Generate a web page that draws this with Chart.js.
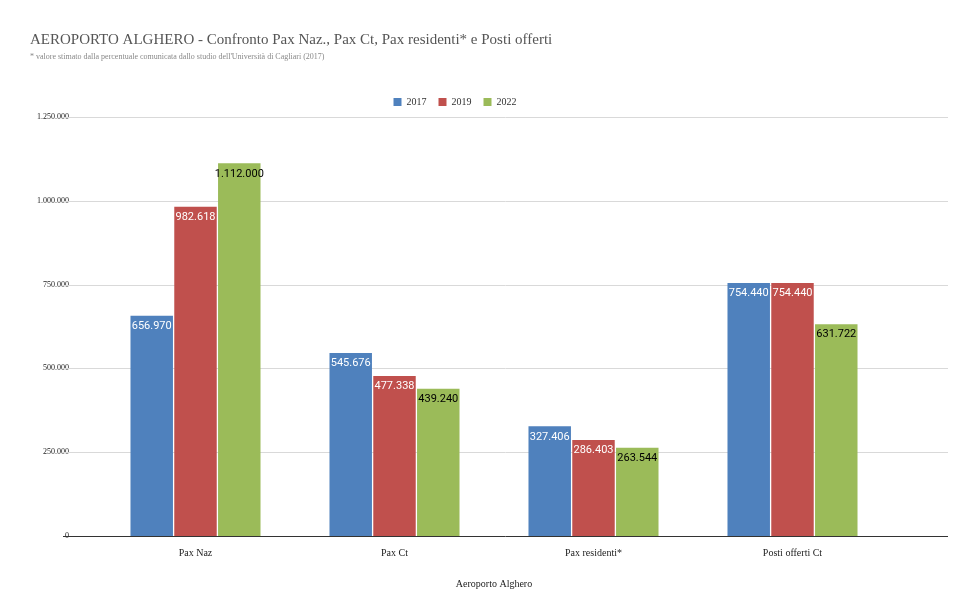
<!DOCTYPE html>
<html>
<head>
<meta charset="utf-8">
<script src="https://cdn.jsdelivr.net/npm/chart.js@4"></script>
<style>
  body { margin: 0; background: #fff; }
  #wrap { width: 980px; height: 608px; }
</style>
</head>
<body>
<div id="wrap"><canvas id="chart"></canvas></div>
<script>
const categories = ['Pax Naz', 'Pax Ct', 'Pax residenti*', 'Posti offerti Ct'];
const years = ['2017', '2019', '2022'];
const values2017 = [656970, 545676, 327406, 754440];
const values2019 = [982618, 477338, 286403, 754440];
const values2022 = [1112000, 439240, 263544, 631722];
const colors = ['#4f81bd', '#c0504d', '#9bbb59'];

const fmt = v => Math.round(v).toString().replace(/\B(?=(\d{3})+(?!\d))/g, '.');

// title + subtitle drawn at the left edge
const headerPlugin = {
    id: 'header',
    afterDraw(chart) {
        const ctx = chart.ctx;
        ctx.save();
        ctx.textBaseline = 'alphabetic';
        ctx.fillStyle = '#555';
        ctx.font = '15px "Liberation Serif"';
        ctx.fillText('AEROPORTO ALGHERO - Confronto Pax Naz., Pax Ct, Pax residenti* e Posti offerti', 30, 44);
        ctx.fillStyle = '#888';
        ctx.font = '8px "Liberation Serif"';
        ctx.fillText("* valore stimato dalla percentuale comunicata dallo studio dell'Università di Cagliari (2017)", 30, 59);
        ctx.restore();
    }
};

// horizontal gridlines run wider than the category area
const gridPlugin = {
    id: 'wideGrid',
    beforeDatasetsDraw(chart) {
        const ctx = chart.ctx, y = chart.scales.y;
        ctx.save();
        y.ticks.forEach(t => {
            const py = Math.round(y.getPixelForValue(t.value)) + 0.5;
            ctx.strokeStyle = t.value === 0 ? '#333' : '#d9d9d9';
            ctx.lineWidth = 1;
            ctx.beginPath();
            ctx.moveTo(63, py);
            ctx.lineTo(948, py);
            ctx.stroke();
        });
        ctx.restore();
    }
};

// value labels inside the top of each bar
const labelPlugin = {
    id: 'barLabels',
    afterDatasetsDraw(chart) {
        const ctx = chart.ctx;
        ctx.save();
        ctx.font = '11px Roboto';
        ctx.textAlign = 'center';
        ctx.textBaseline = 'top';
        chart.data.datasets.forEach((ds, i) => {
            chart.getDatasetMeta(i).data.forEach((bar, j) => {
                ctx.fillStyle = i === 2 ? '#000' : '#fff';
                ctx.fillText(fmt(ds.data[j]), bar.x, bar.y + 5);
            });
        });
        ctx.restore();
    }
};

new Chart(document.getElementById('chart'), {
    type: 'bar',
    data: {
        labels: categories,
        datasets: [values2017, values2019, values2022].map((d, i) => ({
            label: years[i],
            data: d,
            backgroundColor: colors[i],
            categoryPercentage: 0.66,
            barPercentage: 0.97
        }))
    },
    options: {
        responsive: true,
        maintainAspectRatio: false,
        animation: false,
        layout: { padding: { top: 85, left: 18, right: 88, bottom: 14 } },
        plugins: {
            legend: {
                labels: {
                    boxWidth: 8, boxHeight: 8, padding: 12,
                    color: '#333',
                    font: { family: 'Liberation Serif', size: 10 }
                }
            },
            tooltip: { enabled: false }
        },
        scales: {
            x: {
                grid: { display: false },
                border: { display: false },
                ticks: { color: '#222', font: { family: 'Liberation Serif', size: 10 } },
                title: {
                    display: true, text: 'Aeroporto Alghero', color: '#222',
                    font: { family: 'Liberation Serif', size: 10 }, padding: { top: 16 }
                }
            },
            y: {
                min: 0, max: 1250000,
                border: { display: false },
                grid: { display: false },
                ticks: {
                    stepSize: 250000, padding: 19, color: '#222',
                    font: { family: 'Liberation Serif', size: 8 },
                    callback: v => fmt(v)
                }
            }
        }
    },
    plugins: [headerPlugin, gridPlugin, labelPlugin]
});
</script>
</body>
</html>
